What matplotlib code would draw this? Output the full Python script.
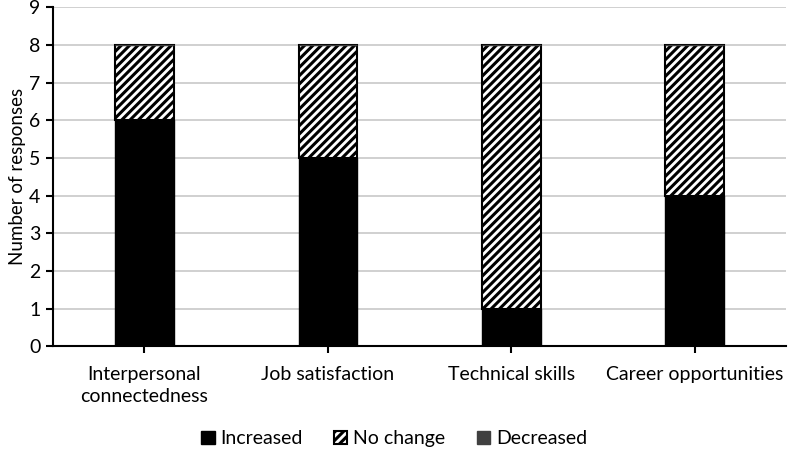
import matplotlib
matplotlib.use("Agg")
import matplotlib.pyplot as plt
import numpy as np

categories = ["Interpersonal\nconnectedness", "Job satisfaction", "Technical skills", "Career opportunities"]
increased = [6, 5, 1, 4]
no_change = [2, 3, 7, 4]
decreased = [0, 0, 0, 0]

plt.rcParams['font.family'] = ['Lato', 'DejaVu Sans']
plt.rcParams['hatch.linewidth'] = 2.2

fig = plt.figure(figsize=(7.88, 4.49), dpi=100)
ax = fig.add_axes([0.067, 0.229, 0.931, 0.755])

x = np.arange(len(categories))
w = 0.32
inc = np.array(increased)
nc = np.array(no_change)

ax.bar(x, increased, w, color='black', edgecolor='black', linewidth=1, label='Increased', zorder=3)
ax.bar(x, no_change, w, bottom=inc, color='white', edgecolor='black', hatch='////',
       linewidth=1.5, label='No change', zorder=3)
ax.bar(x, decreased, w, bottom=inc + nc, color='#404040', edgecolor='#404040', label='Decreased', zorder=3)

ax.set_xlim(-0.5, 3.5)
ax.set_ylim(0, 9)
ax.set_yticks(range(10))
ax.set_xticks(x)
ax.set_xticklabels(categories, fontsize=14, linespacing=1.4)
ax.tick_params(axis='y', labelsize=14, length=5, width=1.5, direction='out', pad=4)
ax.tick_params(axis='x', length=5, width=1.5, direction='out', pad=9)
ax.grid(axis='y', color='#c8c8c8', linewidth=1.2, zorder=0)
ax.set_axisbelow(True)

for s in ['top', 'right']:
    ax.spines[s].set_visible(False)
ax.spines['left'].set_linewidth(1.5)
ax.spines['bottom'].set_linewidth(1.5)

ax.set_ylabel("Number of responses", fontsize=13.5, labelpad=2)

fig.legend(loc='lower center', bbox_to_anchor=(0.5, -0.035), ncol=3, frameon=False,
           fontsize=14, handlelength=0.7, handleheight=0.7, handletextpad=0.3, columnspacing=1.6)

fig.savefig("out.png", dpi=100)
